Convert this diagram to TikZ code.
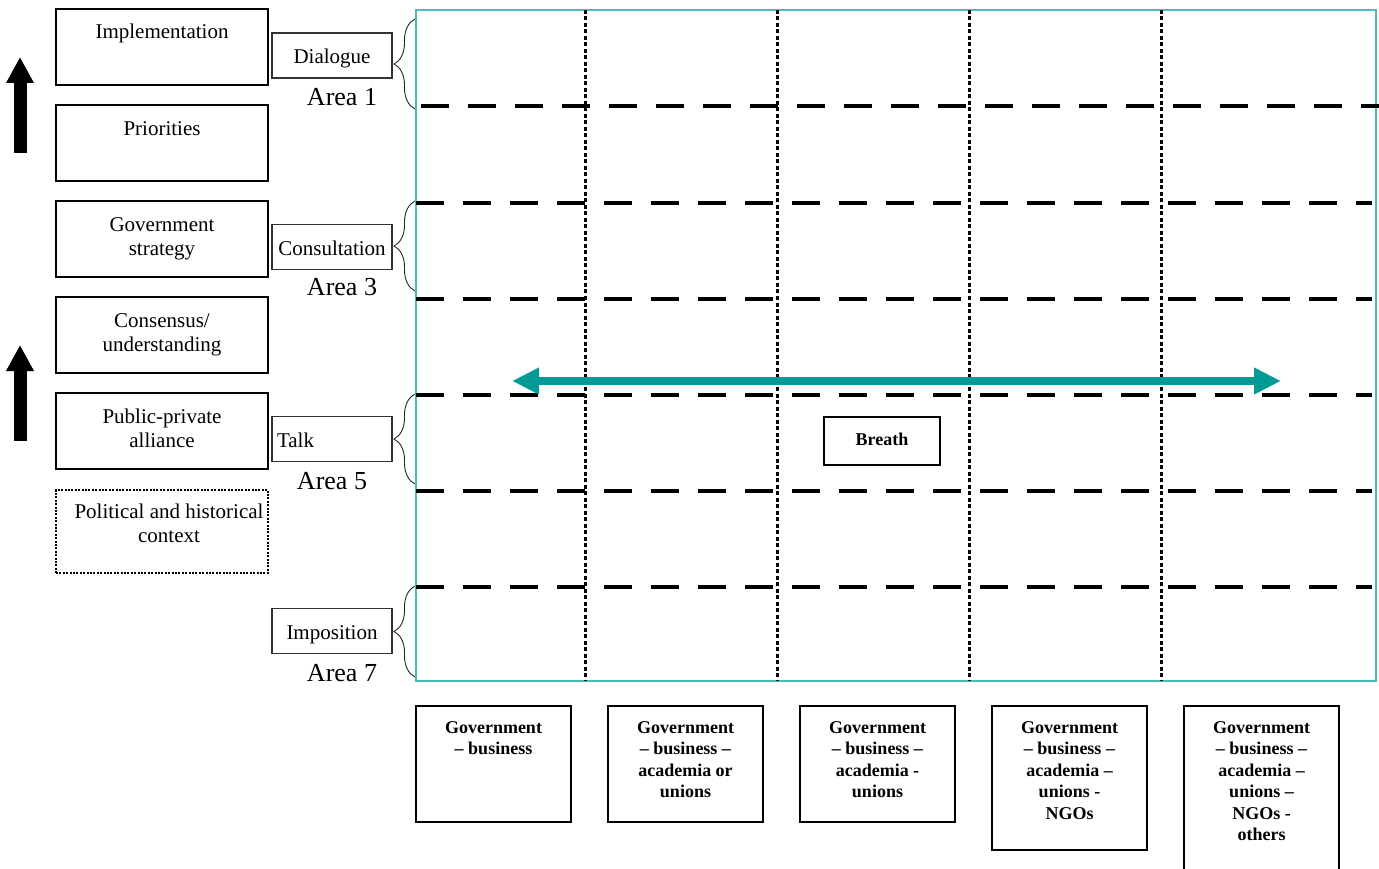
\documentclass[tikz,border=0pt]{standalone}
\usepackage{fontspec}
\setmainfont{Liberation Serif}
\usetikzlibrary{arrows.meta,decorations.pathreplacing}
\definecolor{tealA}{RGB}{0,155,150}
\definecolor{tealB}{RGB}{70,190,185}
\begin{document}
\begin{tikzpicture}[x=1pt,y=-1pt,
  lbox/.style={draw=black, line width=2pt, minimum width=212pt, minimum height=76pt, inner sep=0pt, align=center, font=\fontsize{21}{24}\selectfont},
  ltext/.style={inner sep=0pt, align=center, font=\fontsize{21}{24}\selectfont},
  sbox/.style={draw=black!80, line width=1.3pt, minimum width=120pt, minimum height=45pt, inner sep=0pt, text height=18pt, text depth=2pt, font=\fontsize{21}{24}\selectfont},
  arealabel/.style={inner sep=0pt, font=\fontsize{26}{30}\selectfont},
  bbox/.style={draw=black, line width=2pt, minimum width=155pt, anchor=north, inner sep=0pt},
  btext/.style={inner sep=0pt, anchor=north, align=center, font=\fontsize{18}{21.5}\selectfont\bfseries},
  hdash/.style={line width=4pt, dash pattern=on 28pt off 19pt},
  vdot/.style={line width=3pt, dash pattern=on 4pt off 2.5pt},
  bracestyle/.style={decorate, decoration={brace, amplitude=21pt}, line width=0.9pt, draw=black!85},
  uparrow/.style={line width=13pt, -{Triangle[length=26pt,width=26pt]}}
]
\useasboundingbox (0,0) rectangle (1379,869);

% left column boxes
\node[lbox] (impl) at (162,47) {};
\node[ltext] (impltxt) at (162,33) {Implementation};
\node[lbox] (prio) at (162,143) {};
\node[ltext] (priotxt) at (162,129) {Priorities};
\node[lbox] (gov) at (162,239) {Government\\strategy};
\node[lbox] (cons) at (162,335) {Consensus/\\understanding};
\node[lbox] (ppa) at (162,431) {};
\node[ltext] (ppatxt) at (162,428) {Public-private\\alliance};
\node[lbox, minimum height=83pt, line width=1.8pt, dash pattern=on 2pt off 1.4pt] (ctx) at (162,531.5) {};
\node[ltext] (ctxtxt) at (169,523.5) {Political and historical\\context};

% black arrows
\coordinate (a1s) at (20,153);
\coordinate (a1e) at (20,57);
\coordinate (a2s) at (20,441);
\coordinate (a2e) at (20,345);
\draw[uparrow] (a1s) -- (a1e);
\draw[uparrow] (a2s) -- (a2e);

% small label boxes
\node[sbox] (dia) at (332,55.5) {Dialogue};
\node[sbox] (con) at (332,247) {Consultation};
\node[sbox, text width=110pt, align=left] (talk) at (332,439) {Talk};
\node[sbox] (imp) at (332,631) {Imposition};

\node[arealabel] (ar1) at (342,97) {Area 1};
\node[arealabel] (ar3) at (342,287) {Area 3};
\node[arealabel] (ar5) at (332,481) {Area 5};
\node[arealabel] (ar7) at (342,673) {Area 7};

% braces
\coordinate (b1a) at (415,109); \coordinate (b1b) at (415,19);
\coordinate (b3a) at (415,291); \coordinate (b3b) at (415,201);
\coordinate (b5a) at (415,484); \coordinate (b5b) at (415,394);
\coordinate (b7a) at (415,677); \coordinate (b7b) at (415,586);
\draw[bracestyle] (b1a) -- (b1b);
\draw[bracestyle] (b3a) -- (b3b);
\draw[bracestyle] (b5a) -- (b5b);
\draw[bracestyle] (b7a) -- (b7b);

% grid
\draw[tealB, line width=1.2pt] (416,10) rectangle (1376,681);
\foreach \x in {585,777,969,1161} {
  \draw[vdot] (\x,10) -- (\x,681);
}
\draw[hdash] (421,106) -- (1379,106);
\foreach \y in {203,299,395,491,587} {
  \draw[hdash] (416,\y) -- (1372,\y);
}

% teal double arrow
\coordinate (tl) at (512,381);
\coordinate (tr) at (1281,381);
\draw[tealA, line width=8pt, {Triangle[length=27pt,width=25pt]}-{Triangle[length=27pt,width=25pt]}] (tl) -- (tr);

% Breath
\node[draw=black, line width=2pt, minimum width=116pt, minimum height=48pt, inner sep=0pt, fill=white, text height=12pt, text depth=4pt, font=\fontsize{18}{21.5}\selectfont\bfseries] (breath) at (882,441) {Breath};

% bottom boxes
\node[bbox, minimum height=116pt] (g1) at (493.5,705) {};
\node[btext] (g1t) at (493.5,721) {Government\\– business};
\node[bbox, minimum height=116pt] (g2) at (685.5,705) {};
\node[btext] (g2t) at (685.5,721) {Government\\– business –\\academia or\\unions};
\node[bbox, minimum height=116pt] (g3) at (877.5,705) {};
\node[btext] (g3t) at (877.5,721) {Government\\– business –\\academia -\\unions};
\node[bbox, minimum height=144pt] (g4) at (1069.5,705) {};
\node[btext] (g4t) at (1069.5,721) {Government\\– business –\\academia –\\unions -\\NGOs};
\node[bbox, minimum height=190pt] (g5) at (1261.5,705) {};
\node[btext] (g5t) at (1261.5,721) {Government\\– business –\\academia –\\unions –\\NGOs -\\others};
\end{tikzpicture}
\end{document}
